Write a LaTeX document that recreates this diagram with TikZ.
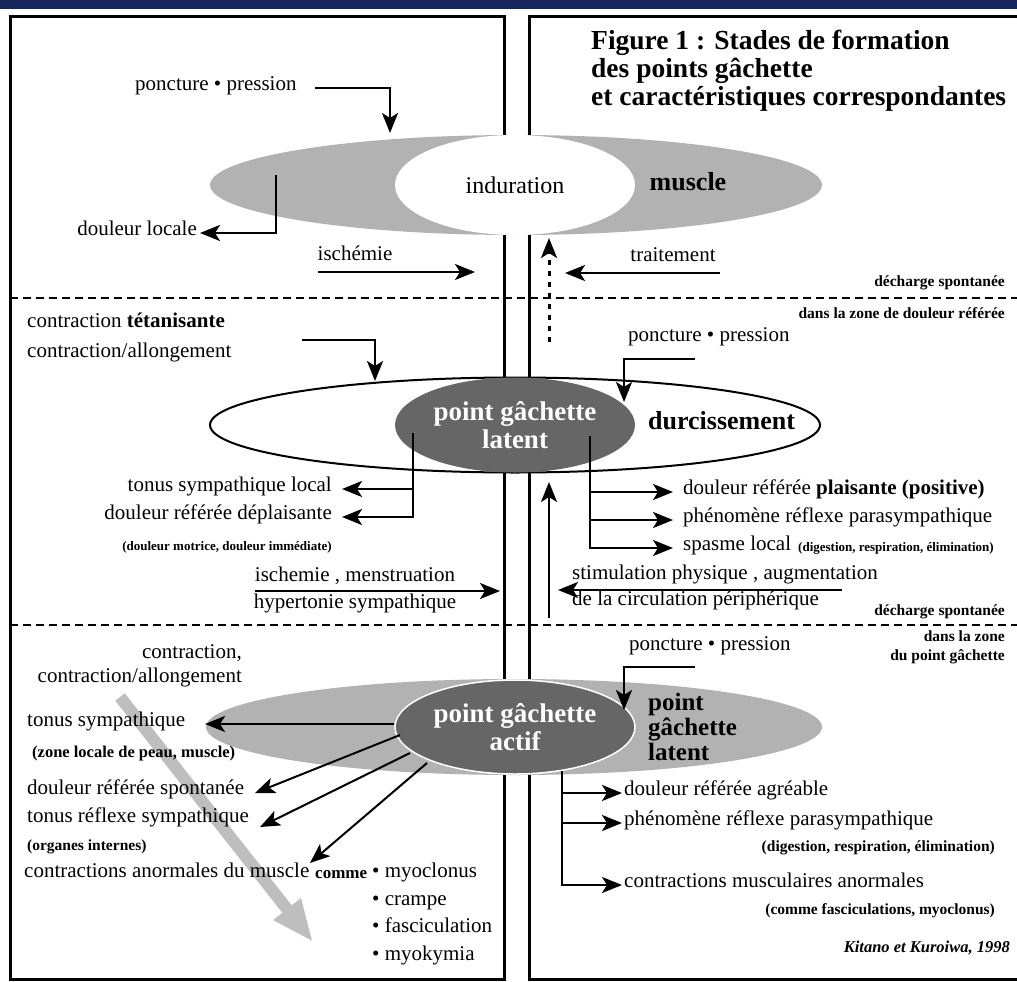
\documentclass[tikz,border=0pt]{standalone}
\usepackage{fontspec}
\setmainfont{Liberation Serif}
\usetikzlibrary{shapes.geometric,arrows.meta}
\definecolor{navy}{RGB}{22,38,92}
\definecolor{lgray}{RGB}{178,178,178}
\definecolor{dgray}{RGB}{102,102,102}
\definecolor{agray}{RGB}{190,190,190}
\tikzset{
  txt/.style={inner sep=0pt, font=\fontsize{21}{25}\selectfont},
  smalltxt/.style={inner sep=0pt, font=\bfseries\fontsize{15.5}{17}\selectfont},
  tinytxt/.style={inner sep=0pt, font=\bfseries\fontsize{13}{15}\selectfont},
  bigb/.style={inner sep=0pt, font=\bfseries\fontsize{26}{27}\selectfont},
  titletxt/.style={inner sep=0pt, anchor=mid west, font=\bfseries\fontsize{27.5}{28}\selectfont},
  tip/.style={-{Stealth[length=20pt,width=16pt,inset=5pt]}},
  arr/.style={line width=2.6pt, tip},
  thinarr/.style={line width=2pt, tip},
  dotarr/.style={line width=3pt, dash pattern=on 5pt off 6pt, tip},
  boxline/.style={line width=3pt},
  sepline/.style={line width=1.3pt, dash pattern=on 8pt off 5pt},
  ell/.style={ellipse, inner sep=0pt},
}
\begin{document}
\begin{tikzpicture}[x=1pt,y=-1pt]
\useasboundingbox (0,0) rectangle (1017,982);
\fill[navy] (0,0) rectangle (1017,9);
\draw[boxline] (10,17) rectangle (504,979);
\draw[boxline] (529,17) rectangle (1040,979);
\draw[sepline] (10,298) -- (1017,298);
\draw[sepline] (10,625) -- (1017,625);

% ---------- title
\node[titletxt] (t1) at (591,47) {Figure 1 : Stades de formation};
\node[titletxt] (t2) at (591,75) {des points gâchette};
\node[titletxt] (t3) at (591,103) {et caractéristiques correspondantes};

% ---------- top stage
\node[ell, fill=lgray, minimum width=612pt, minimum height=100pt] (mus) at (516,185) {};
\node[ell, fill=white, minimum width=240pt, minimum height=100pt, font=\fontsize{24}{28}\selectfont] (ind) at (515,185) {induration};
\node[bigb] (muscle) at (688,182) {muscle};

\node[txt, anchor=mid west] (pp1) at (135,88) {poncture • pression};
\coordinate (pp1b) at (390,133);
\draw[arr, shorten <=18pt] (pp1.mid east) -| (pp1b);

\node[txt, anchor=mid east] (dloc) at (197,233) {douleur locale};
\coordinate (dlocs) at (276,175);
\draw[arr, shorten >=3pt] (dlocs) |- (dloc.mid east);

\node[txt] (isch) at (355,253) {ischémie};
\coordinate (ischa) at (318,272);
\coordinate (ischb) at (475,272);
\draw[arr] (ischa) -- (ischb);

\node[txt] (trait) at (673,255) {traitement};
\coordinate (traita) at (720,273);
\coordinate (traitb) at (565,273);
\draw[arr] (traita) -- (traitb);

\coordinate (dota) at (549,342);
\coordinate (dotb) at (549,238);
\draw[dotarr] (dota) -- (dotb);

\node[smalltxt, anchor=mid east] (dech1) at (1005,284) {décharge spontanée};
\node[smalltxt, anchor=mid east] (zone1) at (1005,316) {dans la zone de douleur référée};

% ---------- middle stage
\node[txt, anchor=mid west] (ct) at (27,325) {contraction \textbf{tétanisante}};
\node[txt, anchor=mid west] (ca) at (27,355) {contraction/allongement};
\coordinate (cta) at (302,340);
\coordinate (ctb) at (375,381);
\draw[arr] (cta) -| (ctb);

\node[ell, draw, line width=2pt, fill=white, minimum width=610pt, minimum height=95pt] (durc) at (515,425) {};
\node[ell, fill=dgray, minimum width=240pt, minimum height=95pt, text=white, align=center, font=\bfseries\fontsize{27}{28}\selectfont] (pgl) at (515,425) {point gâchette\\latent};
\node[bigb, anchor=mid west] (durtxt) at (648,427) {durcissement};

\node[txt, anchor=mid west] (pp2) at (628,339) {poncture • pression};
\coordinate (pp2a) at (695,359);
\coordinate (pp2b) at (624,402);
\draw[arr] (pp2a) -| (pp2b);

\coordinate (lbs) at (413,433);
\node[txt, anchor=mid east] (tsl) at (332,489) {tonus sympathique local};
\node[txt, anchor=mid east] (drd) at (332,517) {douleur référée déplaisante};
\draw[arr, shorten >=10pt] (lbs) |- (tsl.mid east);
\draw[arr, shorten >=10pt] (lbs) |- (drd.mid east);
\node[tinytxt] (dm) at (227,547) {(douleur motrice, douleur immédiate)};

\coordinate (rbs) at (590,436);
\node[txt, anchor=mid west] (drp) at (683,492) {douleur référée \textbf{plaisante (positive)}};
\node[txt, anchor=mid west] (prp) at (683,520) {phénomène réflexe parasympathique};
\node[txt, anchor=mid west] (spl) at (683,548) {spasme local};
\node[tinytxt, anchor=mid west] (dre) at (798,549) {(digestion, respiration, élimination)};
\draw[arr, shorten >=10pt] (rbs) |- (drp.mid west);
\draw[arr, shorten >=10pt] (rbs) |- (prp.mid west);
\draw[arr, shorten >=10pt] (rbs) |- (spl.mid west);

\node[txt] (ism) at (355,576) {ischemie , menstruation};
\node[txt] (hyp) at (355,603) {hypertonie sympathique};
\coordinate (isa) at (255,591);
\coordinate (isb) at (500,591);
\draw[arr] (isa) -- (isb);

\node[txt, anchor=mid west] (stim) at (572,577) {stimulation physique , augmentation};
\node[txt, anchor=mid west] (circ) at (572,603) {de la circulation périphérique};
\coordinate (sta) at (842,590);
\coordinate (stb) at (558,590);
\draw[arr] (sta) -- (stb);
\coordinate (upa) at (549,618);
\coordinate (upb) at (549,482);
\draw[arr] (upa) -- (upb);
\node[smalltxt, anchor=mid east] (dech2) at (1005,613) {décharge spontanée};

% ---------- bottom stage
\node[smalltxt, anchor=mid east] (zone2a) at (1005,639) {dans la zone};
\node[smalltxt, anchor=mid east] (zone2b) at (1005,658) {du point gâchette};
\node[txt, anchor=mid west] (pp3) at (629,648) {poncture • pression};

\node[ell, fill=lgray, minimum width=616pt, minimum height=96pt] (act) at (514,727) {};
\node[ell, fill=dgray, draw=white, line width=1.5pt, minimum width=240pt, minimum height=94pt, text=white, align=center, font=\bfseries\fontsize{27}{28}\selectfont] (pga) at (515,727) {point gâchette\\actif};
\node[bigb, align=left, anchor=west, font=\bfseries\fontsize{25}{25}\selectfont] (pglat) at (648,727) {point\\gâchette\\latent};

\coordinate (pp3a) at (695,667);
\coordinate (pp3b) at (624,710);
\draw[arr] (pp3a) -| (pp3b);

\coordinate (ga) at (120,697);
\coordinate (gb) at (313,942);
\draw[agray, line width=12pt, -{Triangle[length=42pt,width=32pt]}] (ga) -- (gb);

\node[txt, anchor=mid east] (c1) at (242,656) {contraction,};
\node[txt, anchor=mid east] (c2) at (242,680) {contraction/allongement};

\node[txt, anchor=mid west] (ts2) at (27,724) {tonus sympathique};
\coordinate (ts2b) at (205,724);
\draw[arr] (pga.west |- ts2b) -- (ts2b);
\node[smalltxt, anchor=mid west, font=\bfseries\fontsize{16.5}{18}\selectfont] (zl) at (32,755) {(zone locale de peau, muscle)};

\node[txt, anchor=mid west] (drs) at (27,792) {douleur référée spontanée};
\coordinate (d1a) at (400,735);
\coordinate (d1b) at (255,793);
\draw[thinarr] (d1a) -- (d1b);
\node[txt, anchor=mid west] (trs) at (27,820) {tonus réflexe sympathique};
\coordinate (d2a) at (410,753);
\coordinate (d2b) at (260,827);
\draw[thinarr] (d2a) -- (d2b);
\node[smalltxt, anchor=mid west] (oi) at (27,848) {(organes internes)};
\node[txt, anchor=mid west] (cam) at (24,875) {contractions anormales du muscle};
\node[smalltxt, anchor=mid west, font=\bfseries\fontsize{17}{18}\selectfont] (comme) at (315,876) {comme};
\node[txt, anchor=mid west] (myo) at (372,875) {• myoclonus};
\coordinate (d3a) at (427,763);
\coordinate (d3b) at (310,863);
\draw[thinarr] (d3a) -- (d3b);
\node[txt, anchor=mid west] (cr) at (372,903) {• crampe};
\node[txt, anchor=mid west] (fa) at (372,930) {• fasciculation};
\node[txt, anchor=mid west] (mk) at (372,958) {• myokymia};

\coordinate (rb2) at (562,771);
\node[txt, anchor=mid west] (dra) at (624,793) {douleur référée agréable};
\node[txt, anchor=mid west] (prp2) at (624,823) {phénomène réflexe parasympathique};
\node[smalltxt, anchor=mid east] (dre2) at (995,849) {(digestion, respiration, élimination)};
\node[txt, anchor=mid west] (cma) at (624,885) {contractions musculaires anormales};
\node[smalltxt, anchor=mid east] (cfm) at (995,912) {(comme fasciculations, myoclonus)};
\draw[arr, shorten >=2pt] (rb2) |- (dra.mid west);
\draw[arr, shorten >=2pt] (rb2) |- (prp2.mid west);
\draw[arr, shorten >=2pt] (rb2) |- (cma.mid west);
\node[inner sep=0pt, anchor=mid east, font=\itshape\bfseries\fontsize{16.5}{18}\selectfont] (kit) at (1010,950) {Kitano et Kuroiwa, 1998};
\end{tikzpicture}
\end{document}
